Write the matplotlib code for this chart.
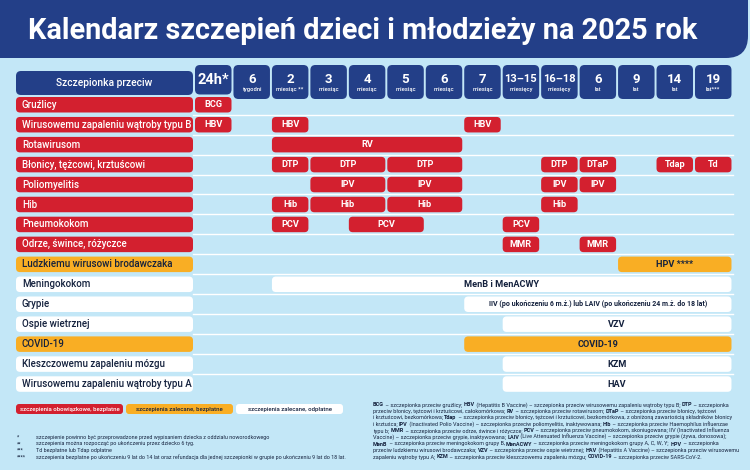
import os
import matplotlib
matplotlib.use('Agg')
import matplotlib.pyplot as plt
from matplotlib.patches import FancyBboxPatch
from matplotlib.font_manager import FontProperties

plt.rcParams['font.family'] = ['Roboto', 'DejaVu Sans']

NAVY = '#233F88'
RED = '#D3202F'
ORANGE = '#F9AE24'
WHITE = '#FFFFFF'
SKY = '#C3E7F7'
INK = '#14213D'

TITLE = 'Kalendarz szczepień dzieci i młodzieży na 2025 rok'
HEADER = 'Szczepionka przeciw'

age_main = ['24h*', '6', '2', '3', '4', '5', '6', '7', '13–15', '16–18',
            '6', '9', '14', '19']
age_unit = ['', 'tygodni', 'miesiąc **', 'miesiąc', 'miesiąc', 'miesiąc',
            'miesiąc', 'miesiąc', 'miesięcy', 'miesięcy', 'lat', 'lat',
            'lat', 'lat***']

diseases = ['Gruźlicy', 'Wirusowemu zapaleniu wątroby typu B', 'Rotawirusom',
            'Błonicy, tężcowi, krztuścowi', 'Poliomyelitis', 'Hib',
            'Pneumokokom', 'Odrze, śwince, różyczce',
            'Ludzkiemu wirusowi brodawczaka', 'Meningokokom', 'Grypie',
            'Ospie wietrznej', 'COVID-19', 'Kleszczowemu zapaleniu mózgu',
            'Wirusowemu zapaleniu wątroby typu A']
category = ['mandatory'] * 8 + ['free', 'paid', 'paid', 'paid', 'free',
                                'paid', 'paid']

# (first column, last column, label) for every row
doses = [
    [(0, 0, 'BCG')],
    [(0, 0, 'HBV'), (2, 2, 'HBV'), (7, 7, 'HBV')],
    [(2, 6, 'RV')],
    [(2, 2, 'DTP'), (3, 4, 'DTP'), (5, 6, 'DTP'), (9, 9, 'DTP'),
     (10, 10, 'DTaP'), (12, 12, 'Tdap'), (13, 13, 'Td')],
    [(3, 4, 'IPV'), (5, 6, 'IPV'), (9, 9, 'IPV'), (10, 10, 'IPV')],
    [(2, 2, 'Hib'), (3, 4, 'Hib'), (5, 6, 'Hib'), (9, 9, 'Hib')],
    [(2, 2, 'PCV'), (4, 5, 'PCV'), (8, 8, 'PCV')],
    [(8, 8, 'MMR'), (10, 10, 'MMR')],
    [(11, 13, 'HPV ****')],
    [(2, 13, 'MenB i MenACWY')],
    [(7, 13, 'IIV (po ukończeniu 6 m.ż.) lub LAIV (po ukończeniu 24 m.ż. do 18 lat)')],
    [(8, 13, 'VZV')],
    [(7, 13, 'COVID-19')],
    [(8, 13, 'KZM')],
    [(8, 13, 'HAV')],
]

legend_kinds = ['mandatory', 'free', 'paid']
legend_labels = ['szczepienia obowiązkowe, bezpłatne',
                 'szczepienia zalecane, bezpłatne',
                 'szczepienia zalecane, odpłatne']

footnote_marks = ['*', '**', '***', '****']
footnote_texts = [
    'szczepienie powinno być przeprowadzone przed wypisaniem dziecka z oddziału noworodkowego',
    'szczepienia można rozpocząć po ukończeniu przez dziecko 6 tyg.',
    'Td bezpłatne lub Tdap odpłatne',
    'szczepienia bezpłatne po ukończeniu 9 lat do 14 lat oraz refundacja dla jednej szczepionki w grupie po ukończeniu 9 lat do 18 lat.',
]

glossary = [
    '**BCG** – szczepionka przeciw gruźlicy; **HBV** (Hepatitis B Vaccine) – szczepionka przeciw wirusowemu zapaleniu wątroby typu B; **DTP** – szczepionka',
    'przeciw błonicy, tężcowi i krztuścowi, całokomórkowa; **RV** – szczepionka przeciw rotawirusom; **DTaP** – szczepionka przeciw błonicy, tężcowi',
    'i krztuścowi, bezkomórkowa; **Tdap** – szczepionka przeciw błonicy, tężcowi i krztuścowi, bezkomórkowa, z obniżoną zawartością składników błonicy',
    'i krztuśca; **IPV** (Inactivated Polio Vaccine) – szczepionka przeciw poliomyelitis, inaktywowana; **Hib** – szczepionka przeciw Haemophilus influenzae',
    'typu b; **MMR** – szczepionka przeciw odrze, śwince i różyczce; **PCV** – szczepionka przeciw pneumokokom, skoniugowana; IIV (Inactivated Influenza',
    'Vaccine) – szczepionka przeciw grypie, inaktywowana; **LAIV** (Live Attenuated Influenza Vaccine) – szczepionka przeciw grypie (żywa, donosowa);',
    '**MenB** – szczepionka przeciw meningokokom grupy B, **MenACWY** – szczepionka przeciw meningokokom grupy A, C, W, Y; **HPV** – szczepionka',
    'przeciw ludzkiemu wirusowi brodawczaka; **VZV** – szczepionka przeciw ospie wietrznej; **HAV** (Hepatitis A Vaccine) – szczepionka przeciw wirusowemu',
    'zapaleniu wątroby typu A; **KZM** – szczepionka przeciw kleszczowemu zapaleniu mózgu; **COVID-19** – szczepionka przeciw SARS-CoV-2.',
]

FILL = {'mandatory': RED, 'free': ORANGE, 'paid': WHITE}
TEXT = {'mandatory': WHITE, 'free': INK, 'paid': INK}

# layout in pixels
COL_X0, COL_STEP, COL_W = 195, 38.46, 36.5
ROW_Y0, ROW_STEP, ROW_H = 97, 19.95, 15.5
LAB_X0, LAB_X1 = 16, 193

# static Roboto files render small bold/regular text on the same baseline
ROBOTO_DIR = '/usr/share/fonts/truetype/roboto/unhinted/RobotoTTF'


def font(size, weight):
    name = {'normal': 'Roboto-Regular.ttf', 'bold': 'Roboto-Bold.ttf'}[weight]
    path = os.path.join(ROBOTO_DIR, name)
    if os.path.exists(path):
        return FontProperties(fname=path, size=size)
    return FontProperties(family=['Roboto', 'DejaVu Sans'], size=size, weight=weight)


def box(ax, x, y, w, h, color, r=4, z=2):
    ax.add_patch(FancyBboxPatch((x, y), w, h, boxstyle=f'round,pad=0,rounding_size={r}',
                                fc=color, ec='none', zorder=z))


def col_span(first, last):
    x0 = COL_X0 + first * COL_STEP
    return x0, COL_X0 + last * COL_STEP + COL_W - x0


def text_width(renderer, s, prop):
    w1 = renderer.get_text_width_height_descent('x' + s + 'x', prop, ismath=False)[0]
    w2 = renderer.get_text_width_height_descent('xx', prop, ismath=False)[0]
    return w1 - w2


def rich_line(ax, renderer, x, y, line, size):
    for i, part in enumerate(line.split('**')):
        if not part:
            continue
        prop = font(size, 'bold' if i % 2 else 'normal')
        ax.text(x, y, part, fontproperties=prop, color=INK, ha='left', va='baseline')
        x += text_width(renderer, part, prop)


def main():
    fig = plt.figure(figsize=(7.5, 4.7), dpi=100)
    fig.patch.set_facecolor(SKY)
    ax = fig.add_axes([0, 0, 1, 1])
    ax.set_xlim(0, 750)
    ax.set_ylim(470, 0)
    ax.axis('off')
    renderer = fig.canvas.get_renderer()

    # title band
    box(ax, -40, -40, 788, 98, NAVY, r=22, z=1)
    ax.text(28, 31, TITLE, color=WHITE, fontsize=20.8, fontweight='bold',
            ha='left', va='center')

    # header row
    box(ax, LAB_X0, 71, LAB_X1 - LAB_X0, 24, NAVY, r=5)
    ax.text((LAB_X0 + LAB_X1) / 2, 83, HEADER, color=WHITE, fontsize=7.4,
            fontweight='medium', ha='center', va='center')
    for i, (main_txt, unit) in enumerate(zip(age_main, age_unit)):
        x, w = col_span(i, i)
        if unit:
            box(ax, x, 65, w, 34, NAVY, r=5)
            size = 8.0 if len(main_txt) > 3 else 9.5
            ax.text(x + w / 2, 79.5, main_txt, color=WHITE, fontsize=size,
                    fontweight='bold', ha='center', va='center')
            ax.text(x + w / 2, 89.5, unit, color=WHITE, fontsize=4.2,
                    fontweight='medium', ha='center', va='center')
        else:
            box(ax, x, 65, w, 29.5, NAVY, r=5)
            ax.text(x + w / 2, 80, main_txt, color=WHITE, fontsize=10.5,
                    fontweight='bold', ha='center', va='center')

    # row separators
    for i in range(1, len(diseases)):
        y = ROW_Y0 + i * ROW_STEP - 2.3
        ax.plot([LAB_X1, 733], [y, y], color=WHITE, lw=1, zorder=1)

    # rows
    for i, (name, kind, spans) in enumerate(zip(diseases, category, doses)):
        y = ROW_Y0 + i * ROW_STEP
        box(ax, LAB_X0, y, LAB_X1 - LAB_X0, ROW_H, FILL[kind])
        ax.text(LAB_X0 + 6, y + ROW_H / 2, name, color=TEXT[kind], fontsize=7.0,
                fontweight='medium', ha='left', va='center')
        for first, last, label in spans:
            x, w = col_span(first, last)
            box(ax, x, y, w, ROW_H, FILL[kind])
            size = 5.0 if len(label) > 30 else 6.6
            ax.text(x + w / 2, y + ROW_H / 2, label, color=TEXT[kind], fontsize=size,
                    fontweight='bold', ha='center', va='center')

    # legend
    for j, (kind, label) in enumerate(zip(legend_kinds, legend_labels)):
        x = 16 + j * 110
        box(ax, x, 404, 107, 10, FILL[kind], r=3)
        ax.text(x + 53.5, 409, label, color=TEXT[kind], fontsize=4.3,
                fontweight='medium', ha='center', va='center')

    # footnotes
    for j, (mark, txt) in enumerate(zip(footnote_marks, footnote_texts)):
        y = 437.5 + j * 6.5
        ax.text(17, y, mark, fontproperties=font(3.8, 'normal'), color=INK,
                ha='left', va='center')
        ax.text(36, y, txt, fontproperties=font(3.9, 'normal'), color=INK,
                ha='left', va='center')

    # glossary
    for j, line in enumerate(glossary):
        rich_line(ax, renderer, 373, 406.5 + j * 6.5, line, 3.97)

    fig.savefig('out.png', dpi=100, facecolor=SKY)
    print('saved out.png')


if __name__ == '__main__':
    main()
